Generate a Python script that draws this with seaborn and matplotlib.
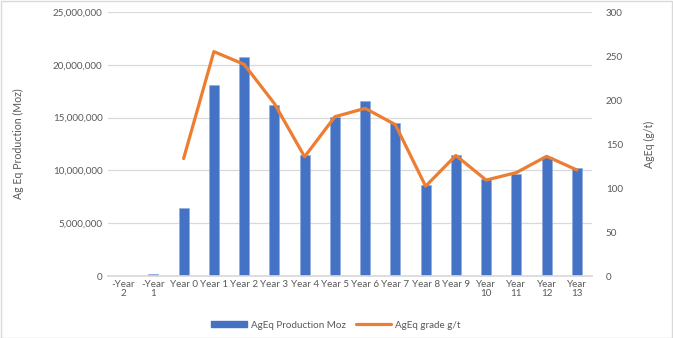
import numpy as np
import pandas as pd
import matplotlib
matplotlib.use("Agg")
import matplotlib.pyplot as plt
import seaborn as sns
from matplotlib.patches import Patch, Rectangle
from matplotlib.lines import Line2D
from matplotlib.ticker import FuncFormatter, MultipleLocator

categories = ["-Year\n2", "-Year\n1", "Year 0", "Year 1", "Year 2", "Year 3", "Year 4",
              "Year 5", "Year 6", "Year 7", "Year 8", "Year 9", "Year\n10", "Year\n11",
              "Year\n12", "Year\n13"]
production_moz = [0, 150000, 6400000, 18050000, 20750000, 16200000, 11450000, 15100000,
                  16550000, 14450000, 8600000, 11450000, 9200000, 9700000, 11250000, 10250000]
grade_gt = [np.nan, np.nan, 133.5, 255, 240.5, 196, 135.5, 181, 190.5, 172,
            102, 137, 109, 117.5, 136, 120.5]

sns.set_theme(style="white")
plt.rcParams["font.family"] = ["Lato", "DejaVu Sans"]
txt = "#595959"
fs = 7.1

df = pd.DataFrame({"cat": categories, "prod": production_moz, "grade": grade_gt})

fig = plt.figure(figsize=(6.73, 3.38), dpi=100)
ax = fig.add_axes([108 / 673, 1 - 276 / 338, (592 - 108) / 673, (276 - 12) / 338])

sns.barplot(data=df, x="cat", y="prod", color="#4472C4", saturation=1, width=0.33,
            edgecolor="#8EA9DB", linewidth=0.4, ax=ax)
ax.set_ylim(0, 25000000)
ax.yaxis.set_major_locator(MultipleLocator(5000000))
ax.yaxis.set_major_formatter(FuncFormatter(lambda v, p: f"{int(v):,}"))
ax.grid(axis="y", color="#d9d9d9", linewidth=0.9)
ax.set_axisbelow(True)
ax.set_xlim(-0.5, len(categories) - 0.5)

ax2 = ax.twinx()
sns.lineplot(data=df, x="cat", y="grade", color="#ED7D31", linewidth=2.3, ax=ax2, sort=False)
ax2.set_ylim(0, 300)
ax2.yaxis.set_major_locator(MultipleLocator(50))
ax2.grid(False)

for a in (ax, ax2):
    for s in a.spines.values():
        s.set_visible(False)
    a.tick_params(length=0, colors=txt, labelsize=fs)
ax.spines["bottom"].set_visible(True)
ax.spines["bottom"].set_color("#d9d9d9")
ax.tick_params(axis="y", pad=4)
ax.tick_params(axis="x", pad=3)
ax2.tick_params(axis="y", pad=10)
for lbl in ax.get_xticklabels():
    lbl.set_linespacing(1.0)

ax.set_xlabel("")
ax.set_ylabel("Ag Eq Production (Moz)", color=txt, fontsize=7.6)
ax.yaxis.set_label_coords(-84 / 484, 0.5)
ax2.set_ylabel("AgEq (g/t)", color=txt, fontsize=7.6, rotation=90)
ax2.yaxis.set_label_coords(1 + 52 / 484, 0.5)

handles = [Patch(facecolor="#4472C4", edgecolor="#4472C4"),
           Line2D([0], [0], color="#ED7D31", linewidth=2.3)]
fig.legend(handles, ["AgEq Production Moz", "AgEq grade g/t"], loc="center",
           bbox_to_anchor=(336 / 673, 1 - 325 / 338), ncol=2, frameon=False,
           fontsize=fs, labelcolor=txt, handlelength=3.6, handleheight=0.55,
           columnspacing=1.0, handletextpad=0.4)

fig.add_artist(Rectangle((0.5 / 673, 0.5 / 338), 1 - 1.5 / 673, 1 - 1.5 / 338,
                         transform=fig.transFigure, fill=False,
                         edgecolor="#d9d9d9", linewidth=1))

fig.savefig("out.png", dpi=100)
